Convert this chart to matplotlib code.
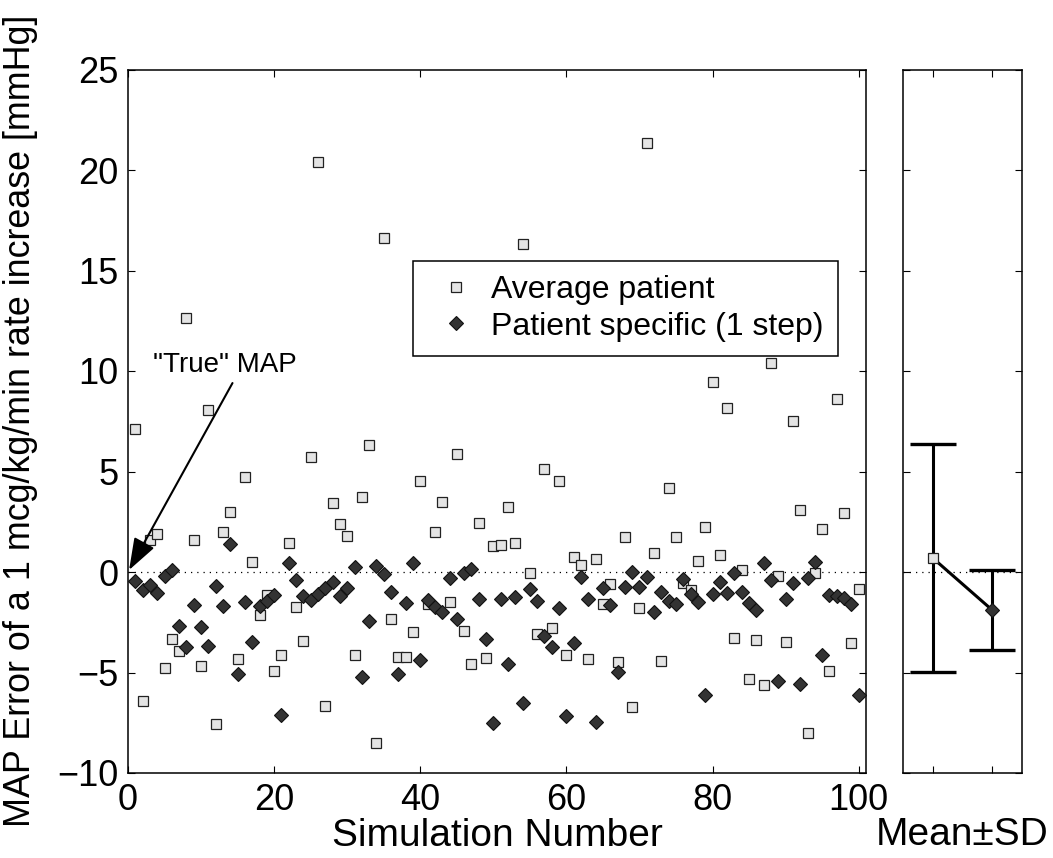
import numpy as np
import matplotlib
matplotlib.use("Agg")
import matplotlib.pyplot as plt

plt.rcParams["font.family"] = ["Liberation Sans", "DejaVu Sans"]

# simulation index 1..100
sim_num = np.arange(1, 101)

# MAP error, average patient model (squares)
avg_patient = [
    7.13, -6.40, 1.58, 1.90, -4.80, -3.35, -3.93, 12.62, 1.60, -4.70,
    8.04, -7.54, 2.00, 3.00, -4.33, 4.73, 0.50, -2.15, -1.16, -4.94,
    -4.11, 1.44, -1.74, -3.45, 5.72, 20.38, -6.68, 3.43, 2.41, 1.81,
    -4.11, 3.73, 6.30, -8.52, 16.63, -2.34, -4.25, -4.21, -2.97, 4.51,
    -1.60, 1.99, 3.48, -1.51, 5.87, -2.92, -4.59, 2.42, -4.29, 1.29,
    1.36, 3.25, 1.46, 16.32, -0.03, -3.08, 5.11, -2.80, 4.54, -4.15,
    0.75, 0.35, -4.35, 0.63, -1.60, -0.60, -4.46, 1.76, -6.73, -1.79,
    21.33, 0.93, -4.43, 4.16, 1.76, -0.53, -0.90, 0.56, 2.24, 9.47,
    0.85, 8.14, -3.30, 0.10, -5.30, -3.38, -5.62, 10.38, -0.20, -3.50,
    7.53, 3.08, -8.00, -0.03, 2.16, -4.93, 8.60, 2.92, -3.52, -0.86,
]

# MAP error, patient specific model after one step (diamonds)
pat_specific = [
    -0.46, -0.91, -0.63, -1.02, -0.21, 0.08, -2.69, -3.73, -1.62, -2.74,
    -3.68, -0.70, -1.71, 1.41, -5.06, -1.49, -3.48, -1.71, -1.44, -1.16,
    -7.13, 0.45, -0.41, -1.19, -1.41, -1.11, -0.79, -0.51, -1.19, -0.79,
    0.25, -5.22, -2.44, 0.31, -0.10, -0.98, -5.09, -1.53, 0.43, -4.38,
    -1.39, -1.72, -1.97, -0.31, -2.34, -0.03, 0.13, -1.34, -3.35, -7.53,
    -1.36, -4.58, -1.26, -6.53, -0.85, -1.44, -3.17, -3.71, -1.81, -7.16,
    -3.55, -0.23, -1.34, -7.45, -0.78, -1.64, -4.99, -0.73, -0.02, -0.73,
    -0.27, -2.00, -1.01, -1.43, -1.61, -0.35, -1.11, -1.48, -6.12, -1.08,
    -0.48, -1.06, -0.07, -0.98, -1.56, -1.89, 0.46, -0.40, -5.41, -1.34,
    -0.56, -5.57, -0.28, 0.51, -4.13, -1.14, -1.19, -1.31, -1.59, -6.12,
]

legend_labels = ["Average patient", "Patient specific (1 step)"]

sq_face = "#e4e4e4"
dm_face = "#333333"
sq_style = dict(marker="s", ms=6.8, mfc=sq_face, mec="#222222", mew=0.9, ls="none")
dm_style = dict(marker="D", ms=7.0, mfc=dm_face, mec="#111111", mew=0.8, ls="none")

# mean and SD of each model (MATLAB std -> ddof=1)
means = [np.mean(avg_patient), np.mean(pat_specific)]
sds = [np.std(avg_patient, ddof=1), np.std(pat_specific, ddof=1)]

W, H = 1053, 858
fig = plt.figure(figsize=(W / 100, H / 100), dpi=100)

# main scatter panel
ax = fig.add_axes([128 / W, 1 - 773 / H, 738 / W, 703.5 / H])
ax.axhline(0, color="k", ls=(0, (1, 4)), lw=0.9, zorder=1)
ax.plot(sim_num, avg_patient, label=legend_labels[0], zorder=3, **sq_style)
ax.plot(sim_num, pat_specific, label=legend_labels[1], zorder=3, **dm_style)
ax.set_xlim(0, 101)
ax.set_ylim(-10, 25)
ax.set_xticks([0, 20, 40, 60, 80, 100])
ax.set_yticks([-10, -5, 0, 5, 10, 15, 20, 25])
ax.tick_params(direction="in", length=5, width=0.8, labelsize=26,
               top=True, right=True, pad=7)
ax.set_xlabel("Simulation Number", fontsize=28, labelpad=0)
ax.set_ylabel("MAP Error of a 1 mcg/kg/min rate increase [mmHg]", fontsize=25.8)
ax.yaxis.set_label_coords(-0.122, 0.5)
for s in ax.spines.values():
    s.set_linewidth(1.1)

leg = ax.legend(loc="upper left", bbox_to_anchor=(0.386, 0.728),
                borderaxespad=0, fontsize=23, frameon=True, fancybox=False,
                edgecolor="k", framealpha=1, handlelength=1.8,
                handletextpad=0.2, borderpad=0.45, labelspacing=0.2)
leg.get_frame().set_linewidth(1.1)

ax.text(3.4, 10.3, '"True" MAP', fontsize=20, va="center", ha="left")
ax.annotate("", xy=(0.15, 0.1), xytext=(14.3, 9.4),
            arrowprops=dict(arrowstyle="-|>,head_length=0.7,head_width=0.25",
                            color="k", lw=1.5, mutation_scale=28,
                            shrinkA=0, shrinkB=0))

# mean +/- SD panel
ax2 = fig.add_axes([903 / W, 1 - 773 / H, 119 / W, 703.5 / H])
ax2.axhline(0, color="k", ls=(0, (1, 4)), lw=0.9, zorder=1)
ax2.plot([1, 2], means, "k-", lw=2.2, zorder=2)
ax2.errorbar([1, 2], means, yerr=sds, fmt="none", ecolor="k",
             elinewidth=2.2, capsize=16.5, capthick=2.4, zorder=2)
ax2.plot([1], [means[0]], zorder=3, **sq_style)
ax2.plot([2], [means[1]], zorder=3, **dm_style)
ax2.set_xlim(0.5, 2.5)
ax2.set_ylim(-10, 25)
ax2.set_xticks([1, 2])
ax2.set_yticks([-10, -5, 0, 5, 10, 15, 20, 25])
ax2.set_xticklabels([])
ax2.set_yticklabels([])
ax2.tick_params(direction="in", length=5, width=0.8, top=True, right=True)
ax2.set_xlabel("Mean\u00b1SD", fontsize=28, labelpad=28)
for s in ax2.spines.values():
    s.set_linewidth(1.1)

fig.savefig("out.png", dpi=100)
